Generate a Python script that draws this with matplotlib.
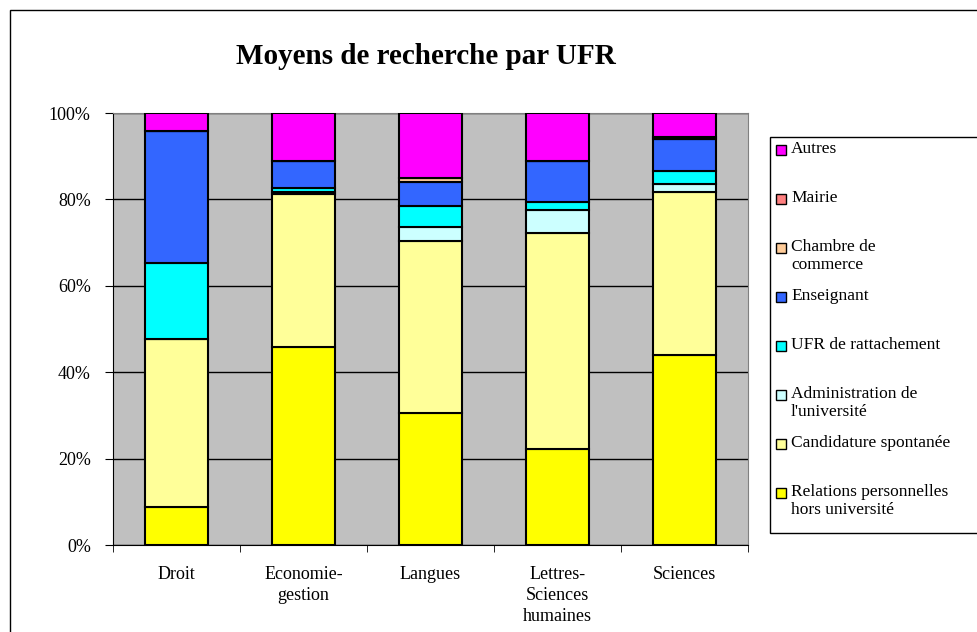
import matplotlib.pyplot as plt
import numpy as np
from matplotlib.patches import Rectangle

plt.rcParams['font.family'] = ['Liberation Serif', 'DejaVu Serif']

ufr = ['Droit', 'Economie-\ngestion', 'Langues', 'Lettres-\nSciences\nhumaines', 'Sciences']

# stacking order, bottom to top
series = ['Relations personnelles\nhors université', 'Candidature spontanée',
          "Administration de\nl'université", 'UFR de rattachement', 'Enseignant',
          'Chambre de\ncommerce', 'Mairie', 'Autres']
colors = ['#FFFF00', '#FFFF99', '#CCFFFF', '#00FFFF', '#3366FF',
          '#FFCC99', '#FF8080', '#FF00FF']

relations = [8.7, 45.8, 30.5, 22.2, 43.9]
candidature = [38.9, 35.5, 39.8, 50.0, 37.9]
administration = [0.0, 0.4, 3.2, 5.4, 1.8]
ufr_rattachement = [17.6, 1.0, 5.0, 1.9, 2.9]
enseignant = [30.7, 6.1, 5.6, 9.3, 7.5]
chambre = [0.0, 0.0, 0.9, 0.0, 0.0]
mairie = [0.0, 0.0, 0.0, 0.0, 0.4]
autres = [4.1, 11.2, 15.0, 11.2, 5.6]

values = [relations, candidature, administration, ufr_rattachement,
          enseignant, chambre, mairie, autres]

W, H = 977, 632
fig = plt.figure(figsize=(W / 100, H / 100), dpi=100)


def fx(px):
    return px / W


def fy(py):
    return 1 - py / H


ax = fig.add_axes([fx(113), fy(545), fx(748) - fx(113), fy(113) - fy(545)])
ax.set_facecolor('#C0C0C0')

x = np.arange(len(ufr))
bottom = np.zeros(len(ufr))
for vals, col in zip(values, colors):
    v = np.array(vals)
    ax.bar(x, v, bottom=bottom, width=0.5, color=col, edgecolor='black',
           linewidth=1.5, zorder=3)
    bottom += v

ax.set_xlim(-0.5, len(ufr) - 0.5)
ax.set_ylim(0, 100)
ax.set_yticks(np.arange(0, 101, 20))
ax.set_yticklabels([f'{v}%' for v in range(0, 101, 20)], fontsize=13)
ax.yaxis.grid(True, color='black', linewidth=1, zorder=0)
ax.set_axisbelow(True)

ax.set_xticks(x)
ax.set_xticklabels(ufr, fontsize=13, linespacing=1.3, va='top')
ax.set_xticks(np.arange(-0.5, len(ufr)), minor=True)
ax.tick_params(axis='x', which='major', length=0, pad=15)
ax.tick_params(axis='x', which='minor', length=5, direction='out')
ax.tick_params(axis='y', length=6, direction='out', pad=10)

for s in ['top', 'right']:
    ax.spines[s].set_color('#808080')
for s in ['left', 'bottom']:
    ax.spines[s].set_color('black')

fig.text(fx(426), fy(56), 'Moyens de recherche par UFR', ha='center',
         va='center', fontsize=21, fontweight='bold')

# legend box drawn by hand, top entry = Autres
fig.patches.append(Rectangle((fx(770), fy(533)), fx(230), fy(137) - fy(533),
                             transform=fig.transFigure, facecolor='white',
                             edgecolor='black', linewidth=1, zorder=1))
for i, k in enumerate(range(len(series) - 1, -1, -1)):
    yc = 150 + 49 * i
    fig.patches.append(Rectangle((fx(776), fy(yc + 5)), fx(10), fy(yc - 5) - fy(yc + 5),
                                 transform=fig.transFigure, facecolor=colors[k],
                                 edgecolor='black', linewidth=1, zorder=2))
    fig.text(fx(791), fy(yc - 9), series[k], ha='left', va='top',
             fontsize=12.5, linespacing=1.15, zorder=3)

# outer chart border
fig.patches.append(Rectangle((fx(10), -0.05), 1.1, fy(10) + 0.05,
                             transform=fig.transFigure, facecolor='none',
                             edgecolor='black', linewidth=1, zorder=0))

fig.savefig('out.png', dpi=100)
